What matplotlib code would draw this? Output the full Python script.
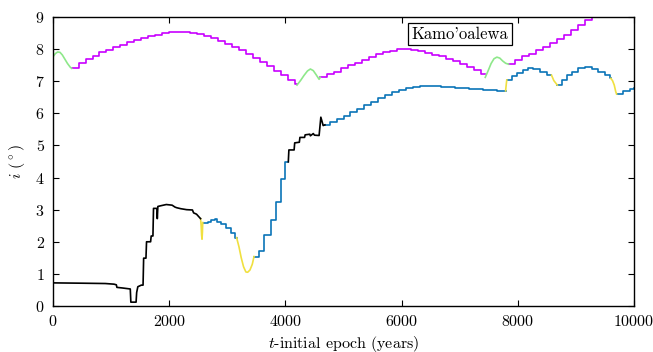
import matplotlib
matplotlib.use("Agg")
import matplotlib.pyplot as plt

plt.rcParams["font.family"] = "serif"
plt.rcParams["font.serif"] = ["cmr10"]
plt.rcParams["mathtext.fontset"] = "cm"
plt.rcParams["axes.formatter.use_mathtext"] = True

PURPLE = "#c800ff"
GREEN = "#8ee88a"
YELLOW = "#f0e040"
BLUE = "#0a74b8"
BLACK = "#000000"

# stepped segments: knot times and values (steps-post)
purple1_t = [320, 440, 560, 680, 800, 920, 1040, 1160, 1280, 1400, 1520, 1640, 1760, 1880, 2000,
             2120, 2240, 2360, 2480, 2600, 2720, 2840, 2960, 3080, 3200, 3320, 3440, 3560, 3680,
             3800, 3920, 4040, 4160, 4200]
purple1_i = [7.40, 7.56, 7.68, 7.80, 7.90, 7.98, 8.06, 8.14, 8.21, 8.28, 8.35, 8.41, 8.45, 8.49, 8.52,
             8.54, 8.52, 8.50, 8.46, 8.41, 8.34, 8.26, 8.17, 8.07, 7.97, 7.86, 7.73, 7.60, 7.46,
             7.33, 7.18, 7.03, 6.90, 6.90]

purple2_t = [4600, 4720, 4840, 4960, 5080, 5200, 5320, 5440, 5560, 5680, 5800, 5920, 6040, 6160,
             6280, 6400, 6520, 6640, 6760, 6880, 7000, 7120, 7240, 7360, 7440]
purple2_i = [7.12, 7.22, 7.30, 7.40, 7.49, 7.58, 7.67, 7.76, 7.84, 7.90, 7.95, 7.99, 8.00, 7.98,
             7.94, 7.89, 7.83, 7.77, 7.70, 7.62, 7.53, 7.44, 7.34, 7.22, 7.22]

purple3_t = [7840, 7960, 8080, 8200, 8320, 8440, 8560, 8680, 8800, 8920, 9040, 9160, 9280]
purple3_i = [7.53, 7.66, 7.78, 7.86, 7.96, 8.06, 8.18, 8.30, 8.45, 8.60, 8.74, 8.90, 9.05]

blue1_t = [2577, 2660, 2720, 2790, 2830, 2900, 2980, 3060, 3130, 3160]
blue1_i = [2.60, 2.63, 2.68, 2.72, 2.62, 2.54, 2.42, 2.28, 2.13, 2.13]

blue2_t = [3460, 3550, 3640, 3750, 3840, 3920, 4000, 4050]
blue2_i = [1.54, 1.71, 2.22, 2.68, 3.25, 3.94, 4.49, 4.49]

blue3_t = [4680, 4760, 4880, 5000, 5120, 5240, 5360, 5480, 5600, 5720, 5840, 5960, 6080, 6200,
           6320, 6440, 6560, 6680, 6800, 6920, 7040, 7160, 7280, 7400, 7520, 7640, 7790]
blue3_i = [5.64, 5.72, 5.82, 5.93, 6.05, 6.15, 6.25, 6.36, 6.47, 6.56, 6.65, 6.73, 6.79, 6.83,
           6.86, 6.86, 6.85, 6.83, 6.81, 6.80, 6.78, 6.77, 6.75, 6.74, 6.72, 6.70, 6.70]

blue4_t = [7810, 7895, 7980, 8095, 8180, 8270, 8380, 8500, 8580]
blue4_i = [7.04, 7.16, 7.27, 7.35, 7.40, 7.37, 7.30, 7.19, 7.19]

blue5_t = [8680, 8755, 8840, 8930, 9040, 9155, 9270, 9385, 9500, 9585, 9600]
blue5_i = [6.88, 7.04, 7.19, 7.30, 7.40, 7.43, 7.38, 7.30, 7.19, 7.09, 7.09]

blue6_t = [9700, 9815, 9930, 10000]
blue6_i = [6.60, 6.68, 6.75, 6.80]

# smooth / irregular segments (plain lines)
green1_t = [0, 40, 80, 120, 160, 200, 250, 300, 322]
green1_i = [7.76, 7.86, 7.91, 7.90, 7.82, 7.70, 7.55, 7.43, 7.40]
green2_t = [4200, 4260, 4320, 4380, 4430, 4480, 4530, 4580, 4600]
green2_i = [6.88, 7.02, 7.18, 7.32, 7.38, 7.33, 7.20, 7.06, 7.12]
green3_t = [7440, 7490, 7540, 7590, 7640, 7690, 7740, 7790, 7840]
green3_i = [7.12, 7.33, 7.55, 7.70, 7.75, 7.72, 7.63, 7.56, 7.53]

yellow1_t = [2540, 2550, 2558, 2565, 2572, 2577]
yellow1_i = [2.72, 2.50, 2.20, 2.08, 2.30, 2.60]
yellow2_t = [3160, 3200, 3240, 3280, 3320, 3350, 3390, 3430, 3460]
yellow2_i = [2.13, 1.85, 1.50, 1.22, 1.06, 1.05, 1.12, 1.30, 1.54]
yellow3_t = [7790, 7800, 7810]
yellow3_i = [6.70, 6.88, 7.04]
yellow4_t = [8580, 8620, 8650, 8680]
yellow4_i = [7.19, 7.02, 6.95, 6.88]
yellow5_t = [9600, 9630, 9660, 9685, 9700]
yellow5_i = [7.09, 7.02, 6.88, 6.68, 6.60]

black1_t = [0, 0, 500, 900, 1050, 1090, 1100, 1200, 1330, 1340, 1430, 1440, 1460, 1520, 1550, 1560,
            1600, 1610, 1680, 1690, 1720, 1730, 1790, 1795, 1805, 1850, 1950, 2050, 2100, 2130,
            2200, 2300, 2400, 2420, 2470, 2500, 2540]
black1_i = [0.0, 0.72, 0.71, 0.70, 0.68, 0.66, 0.58, 0.56, 0.53, 0.12, 0.12, 0.42, 0.60, 0.65, 0.65, 1.49,
            1.49, 2.00, 2.00, 2.18, 2.18, 3.04, 3.04, 2.72, 3.10, 3.12, 3.16, 3.14, 3.08, 3.06,
            3.03, 3.00, 2.99, 2.90, 2.86, 2.80, 2.72]
black2_t = [4050, 4060, 4150, 4160, 4240, 4250, 4330, 4340, 4420, 4430, 4480, 4500, 4580, 4610,
            4650, 4680]
black2_i = [4.49, 4.86, 4.86, 5.08, 5.10, 5.25, 5.25, 5.33, 5.35, 5.30, 5.37, 5.32, 5.31, 5.88,
            5.62, 5.64]

fig = plt.figure(figsize=(6.53, 3.52), dpi=100)
ax = fig.add_axes([53 / 653, 46 / 352, 581 / 653, 289 / 352])

lw = 1.2
for t, v in [(purple1_t, purple1_i), (purple2_t, purple2_i), (purple3_t, purple3_i)]:
    ax.plot(t, v, color=PURPLE, lw=lw, drawstyle="steps-post")
for t, v in [(blue1_t, blue1_i), (blue2_t, blue2_i), (blue3_t, blue3_i),
             (blue4_t, blue4_i), (blue5_t, blue5_i), (blue6_t, blue6_i)]:
    ax.plot(t, v, color=BLUE, lw=lw, drawstyle="steps-post")
for t, v in [(green1_t, green1_i), (green2_t, green2_i), (green3_t, green3_i)]:
    ax.plot(t, v, color=GREEN, lw=lw)
for t, v in [(yellow1_t, yellow1_i), (yellow2_t, yellow2_i), (yellow3_t, yellow3_i),
             (yellow4_t, yellow4_i), (yellow5_t, yellow5_i)]:
    ax.plot(t, v, color=YELLOW, lw=lw)
for t, v in [(black1_t, black1_i), (black2_t, black2_i)]:
    ax.plot(t, v, color=BLACK, lw=lw)

ax.set_xlim(0, 10000)
ax.set_ylim(0, 9)
ax.set_xticks([0, 2000, 4000, 6000, 8000, 10000])
ax.set_yticks(range(10))
ax.tick_params(direction="in", top=True, right=True, length=4, width=0.8, labelsize=11.5, pad=6)
for s in ax.spines.values():
    s.set_linewidth(1.0)

ax.set_xlabel(r"$t$-initial epoch (years)", fontsize=11.5, labelpad=3)
ax.set_ylabel(r"$i$ $(^\circ)$", fontsize=11.5, labelpad=6)

ax.text(7010, 8.47, "Kamo'oalewa", fontsize=12, ha="center", va="center",
        family=["cmr10", "DejaVu Serif"],
        bbox=dict(boxstyle="square,pad=0.22", fc="white", ec="black", lw=0.9))

fig.savefig("out.png", dpi=100)
